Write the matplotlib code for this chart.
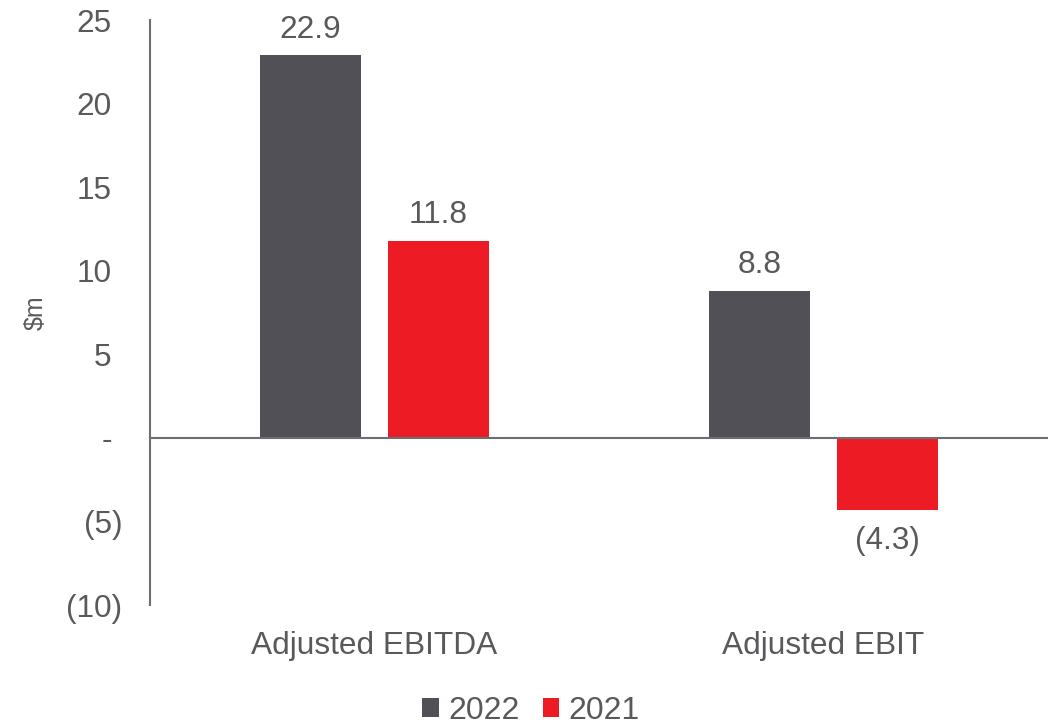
import numpy as np
import matplotlib.pyplot as plt
import matplotlib.transforms as mtransforms

plt.rcParams['font.family'] = ['Liberation Sans', 'DejaVu Sans']

categories = ['Adjusted EBITDA', 'Adjusted EBIT']
years = ['2022', '2021']
values_2022 = [22.9, 8.8]
values_2021 = [11.8, -4.3]
ytick_vals = [-10, -5, 0, 5, 10, 15, 20, 25]
ytick_labels = ['(10)', '(5)', '-', '5', '10', '15', '20', '25']

grey = '#505056'
red = '#ED1C24'
txt = '#58595B'
line = '#6D6E71'

fig = plt.figure(figsize=(10.56, 7.28), dpi=100)
ax = fig.add_axes([150/1056, 1 - 605/728, 898/1056, 585/728])

x = np.arange(len(categories))
w = 0.227
off = 0.1425
b1 = ax.bar(x - off, values_2022, w, color=grey, label=years[0], zorder=2)
b2 = ax.bar(x + off, values_2021, w, color=red, label=years[1], zorder=2)

def fmt(v):
    return '(%.1f)' % abs(v) if v < 0 else '%.1f' % v

for bars, vals in [(b1, values_2022), (b2, values_2021)]:
    for r, v in zip(bars, vals):
        if v >= 0:
            ax.annotate(fmt(v), (r.get_x() + r.get_width() / 2, v), xytext=(0, 7.5),
                        textcoords='offset points', ha='center', va='bottom',
                        fontsize=22.8, color=txt)
        else:
            ax.annotate(fmt(v), (r.get_x() + r.get_width() / 2, v), xytext=(0, -12),
                        textcoords='offset points', ha='center', va='top',
                        fontsize=22.8, color=txt)

ax.axhline(0, color=line, lw=1.5, zorder=3)
ax.set_xlim(-0.5, 1.5)
ax.set_ylim(-10, 25)
ax.set_yticks(ytick_vals)
ax.set_yticklabels(ytick_labels)
ax.tick_params(axis='y', length=0, pad=20, labelsize=22.8, labelcolor=txt)
ax.set_xticks(x)
ax.set_xticklabels(categories)
ax.tick_params(axis='x', length=0, pad=18.5, labelsize=22.8, labelcolor=txt)
for s in ['top', 'right', 'bottom']:
    ax.spines[s].set_visible(False)
ax.spines['left'].set_color(line)
ax.spines['left'].set_linewidth(1.5)
ax.set_ylabel('$m', fontsize=18, color=txt)
ax.yaxis.set_label_coords(-0.114, 0.5)

# positive numbers and the dash are padded by the width of ")"
fig.canvas.draw()
for lab in ax.get_yticklabels():
    if not lab.get_text().startswith('('):
        lab.set_transform(lab.get_transform() + mtransforms.ScaledTranslation(-10.5/100, 0, fig.dpi_scale_trans))

fig.legend(loc='center', bbox_to_anchor=(531/1056, 1 - 711/728), ncol=2, frameon=False,
           fontsize=23, labelcolor=txt, handlelength=0.53, handleheight=0.53,
           handletextpad=0.28, columnspacing=0.72)

fig.savefig('out.png', dpi=100)
